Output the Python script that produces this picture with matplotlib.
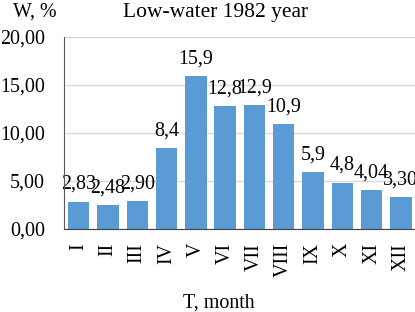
import matplotlib
matplotlib.use("Agg")
import matplotlib.pyplot as plt
from matplotlib.ticker import FuncFormatter

# Данные: доля стока по месяцам, маловодный 1982 год
months = ['I', 'II', 'III', 'IV', 'V', 'VI', 'VII', 'VIII', 'IX', 'X', 'XI', 'XII']
values = [2.83, 2.48, 2.90, 8.4, 15.9, 12.8, 12.9, 10.9, 5.9, 4.8, 4.04, 3.30]
value_labels = ['2,83', '2,48', '2,90', '8,4', '15,9', '12,8', '12,9', '10,9',
                '5,9', '4,8', '4,04', '3,30']
yticks = [0, 5, 10, 15, 20]

plt.rcParams['font.family'] = ['Liberation Serif', 'DejaVu Serif']
FS = 14.4

fig = plt.figure(figsize=(4.15, 3.12), dpi=100)
ax = fig.add_axes([64 / 415, 83 / 312, 351.5 / 415, 192 / 312])

x = list(range(len(months)))
bars = ax.bar(x, values, width=0.73, color='#5B9BD5', zorder=3)

for xi, v, lab in zip(x, values, value_labels):
    ax.annotate(lab, (xi, v), xytext=(0, 9.4), textcoords='offset points',
                ha='center', va='baseline', fontsize=FS, zorder=4)

ax.set_xlim(-0.5, len(months) - 0.5)
ax.set_ylim(0, 20)
ax.set_yticks(yticks)
ax.yaxis.set_major_formatter(FuncFormatter(lambda v, p: f'{v:.2f}'.replace('.', ',')))
ax.set_xticks(x)
ax.set_xticklabels(months, rotation=90, fontsize=FS)
ax.tick_params(axis='y', length=0, pad=13.7, labelsize=FS)
ax.tick_params(axis='x', length=0, pad=10)

ax.grid(axis='y', color='#D9D9D9', linewidth=1, zorder=0)
for s in ['top', 'right']:
    ax.spines[s].set_visible(False)
ax.spines['left'].set_color('#595959')
ax.spines['bottom'].set_color('#404040')
ax.spines['left'].set_zorder(5)
ax.spines['bottom'].set_zorder(5)

fig.text(216 / 415, 1 - 12 / 312, 'Low-water 1982 year', ha='center', va='center', fontsize=15.5)
fig.text(35 / 415, 1 - 12 / 312, 'W, %', ha='center', va='center', fontsize=FS)
fig.text(219 / 415, 1 - 303 / 312, 'T, month', ha='center', va='center', fontsize=FS)

fig.savefig('out.png', dpi=100)
